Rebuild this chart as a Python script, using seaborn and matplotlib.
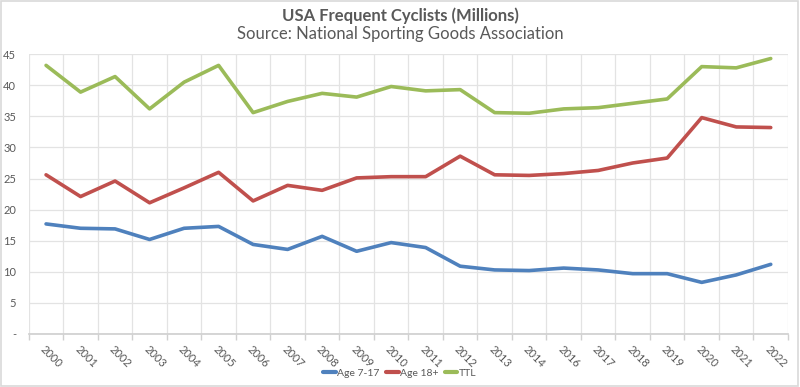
import matplotlib
matplotlib.use("Agg")
import matplotlib.pyplot as plt
from matplotlib.ticker import MultipleLocator, FixedLocator, FuncFormatter
from matplotlib.patches import Rectangle
import seaborn as sns
import pandas as pd

years = ["2000", "2001", "2002", "2003", "2004", "2005", "2006", "2007", "2008", "2009",
         "2010", "2011", "2012", "2013", "2014", "2016", "2017", "2018", "2019", "2020",
         "2021", "2022"]
age_7_17 = [17.7, 17.0, 16.9, 15.2, 17.0, 17.3, 14.4, 13.6, 15.7, 13.3,
            14.7, 13.9, 10.9, 10.3, 10.2, 10.6, 10.3, 9.7, 9.7, 8.3, 9.5, 11.2]
age_18p = [25.6, 22.1, 24.6, 21.1, 23.5, 26.0, 21.4, 23.9, 23.1, 25.1,
           25.3, 25.3, 28.6, 25.6, 25.5, 25.8, 26.3, 27.5, 28.3, 34.8, 33.3, 33.2]
ttl = [43.2, 38.9, 41.4, 36.2, 40.5, 43.2, 35.6, 37.4, 38.7, 38.1,
       39.8, 39.1, 39.3, 35.6, 35.5, 36.2, 36.4, 37.1, 37.8, 43.0, 42.8, 44.3]
series_names = ["Age 7-17", "Age 18+", "TTL"]
colors = ["#4F81BD", "#C0504D", "#9BBB59"]

df = pd.concat([
    pd.DataFrame({"Year": years, "Value": v, "Series": n})
    for n, v in zip(series_names, [age_7_17, age_18p, ttl])
], ignore_index=True)

sns.set_theme(style="white")
plt.rcParams["font.family"] = ["Lato", "DejaVu Sans"]

fig = plt.figure(figsize=(8, 3.87), dpi=100)
ax = fig.add_axes([0.036, 0.137, 0.949, 0.723])

sns.lineplot(data=df, x="Year", y="Value", hue="Series", palette=colors,
             hue_order=series_names, linewidth=2.6, ax=ax, sort=False)

txt = "#595959"
grid = "#e3e3e3"
ax.set_xlim(-0.5, len(years) - 0.5)
ax.set_ylim(0, 45)
ax.yaxis.set_major_locator(MultipleLocator(5))
ax.yaxis.set_major_formatter(FuncFormatter(lambda v, p: "-" if v == 0 else f"{int(v)}"))
ax.xaxis.set_minor_locator(FixedLocator([i - 0.5 for i in range(len(years) + 1)]))
ax.grid(axis="y", which="major", color=grid, linewidth=0.9)
ax.grid(axis="x", which="minor", color=grid, linewidth=0.9)
ax.grid(axis="x", which="major", visible=False)
for s in ["top", "right", "left"]:
    ax.spines[s].set_visible(False)
ax.spines["bottom"].set_color("#d0d0d0")
ax.tick_params(axis="x", which="major", length=0, pad=7, labelsize=8, labelcolor=txt)
ax.tick_params(axis="x", which="minor", length=4, color="#d0d0d0", direction="out", bottom=True)
ax.tick_params(axis="y", length=0, labelsize=8, labelcolor=txt, pad=9)
for lab in ax.get_xticklabels():
    lab.set_rotation(-45)
    lab.set_ha("left")
    lab.set_rotation_mode("anchor")
ax.set_xlabel("")
ax.set_ylabel("")

handles, labels = ax.get_legend_handles_labels()
ax.get_legend().remove()
leg = fig.legend(handles, labels, loc="center", bbox_to_anchor=(0.5, 0.036), ncol=3,
                 frameon=False, fontsize=7.5, handlelength=1.2, handletextpad=0.15,
                 columnspacing=0.6, borderaxespad=0)
for t in leg.get_texts():
    t.set_color(txt)
for l in leg.get_lines():
    l.set_linewidth(3)

fig.text(0.5, 0.960, "USA Frequent Cyclists (Millions)", ha="center", va="center",
         fontsize=12, fontweight="bold", color=txt)
fig.text(0.5, 0.913, "Source: National Sporting Goods Association", ha="center", va="center",
         fontsize=12, color=txt)

fig.patches.append(Rectangle((0.001, 0.002), 0.997, 0.995, transform=fig.transFigure,
                             fill=False, edgecolor="#d9d9d9", linewidth=1.2))

fig.savefig("out.png", dpi=100)
